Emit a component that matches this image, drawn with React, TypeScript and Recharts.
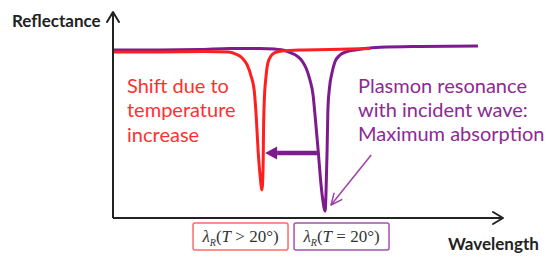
import { LineChart, Line, XAxis, YAxis, ReferenceLine, ReferenceDot } from 'recharts';

// wavelength in arbitrary units (0-100), reflectance 0-1
const redWavelength = [0, 12.1, 23.6, 29.5, 31.5, 33.1, 34.4, 35.4, 36.2, 36.7, 37.2, 37.7, 38.2, 38.5, 38.6, 38.8, 39.2, 39.7, 40.5, 41.5, 43.3, 47.9, 55.6, 65.9];
const redReflectance = [0.806, 0.806, 0.808, 0.806, 0.796, 0.777, 0.743, 0.689, 0.621, 0.5, 0.33, 0.209, 0.136, 0.257, 0.427, 0.573, 0.68, 0.752, 0.786, 0.803, 0.811, 0.816, 0.818, 0.823];

const purpleWavelength = [0, 12.1, 22.3, 30.0, 37.7, 41.5, 44.1, 45.6, 47.2, 48.5, 49.5, 50.5, 51.3, 51.8, 52.6, 53.3, 53.8, 54.4, 54.6, 54.9, 55.1, 55.5, 56.2, 56.9, 58.2, 60.0, 62.1, 64.6, 68.5, 78.7, 93.6];
const purpleReflectance = [0.816, 0.816, 0.818, 0.823, 0.823, 0.82, 0.813, 0.801, 0.786, 0.762, 0.728, 0.67, 0.597, 0.5, 0.33, 0.17, 0.087, 0.034, 0.112, 0.33, 0.524, 0.631, 0.709, 0.757, 0.791, 0.808, 0.816, 0.823, 0.829, 0.833, 0.835];

const labelPositions = [32.7, 58.6];
const labelConditions = ['>', '='];
const labelColors = ['#ff6a6a', '#a452ac'];

const redData = redWavelength.map((w, i) => ({ w, r: redReflectance[i] }));
const purpleData = purpleWavelength.map((w, i) => ({ w, r: purpleReflectance[i] }));

const RED = '#ff1f1f';
const PURPLE = '#7d1a8e';
const PURPLE_TEXT = '#8c2a92';

const sans = 'Lato, "Open Sans", sans-serif';
const serif = '"Liberation Serif", "DejaVu Serif", serif';

// line with an open chevron head at the end
const chevronArrow = (color: string, width: number, head: number, spread: number) => (p: any) => {
  const { x1, y1, x2, y2 } = p;
  const a = Math.atan2(y2 - y1, x2 - x1);
  const bx = x2 - head * Math.cos(a);
  const by = y2 - head * Math.sin(a);
  const nx = -Math.sin(a) * spread;
  const ny = Math.cos(a) * spread;
  return (
    <g>
      <line x1={x1} y1={y1} x2={x2} y2={y2} stroke={color} strokeWidth={width} />
      <polyline
        points={`${bx + nx},${by + ny} ${x2},${y2} ${bx - nx},${by - ny}`}
        fill="none"
        stroke={color}
        strokeWidth={width}
        strokeLinecap="round"
        strokeLinejoin="round"
      />
    </g>
  );
};

// thick arrow with filled triangular head
const filledArrow = (color: string, width: number, head: number, spread: number) => (p: any) => {
  const { x1, y1, x2, y2 } = p;
  const a = Math.atan2(y2 - y1, x2 - x1);
  const bx = x2 - head * Math.cos(a);
  const by = y2 - head * Math.sin(a);
  const nx = -Math.sin(a) * spread;
  const ny = Math.cos(a) * spread;
  return (
    <g>
      <line x1={x1} y1={y1} x2={bx} y2={by} stroke={color} strokeWidth={width} />
      <polygon points={`${bx + nx},${by + ny} ${x2},${y2} ${bx - nx},${by - ny}`} fill={color} />
    </g>
  );
};

// boxed λR(T ...) label hung below the axis
const boxLabel = (index: number) => (p: any) => {
  const { cx, cy } = p;
  const w = 95;
  const color = labelColors[index];
  return (
    <g>
      <rect x={cx - w / 2} y={cy + 5} width={w} height={27} rx={2} fill="#fff" stroke={color} strokeWidth={1.5} />
      <text x={cx} y={cy + 24} textAnchor="middle" fontFamily={serif} fontSize={17} fill="#333">
        <tspan fontStyle="italic">λ</tspan>
        <tspan fontStyle="italic" fontSize={10} dy={4}>R</tspan>
        <tspan dy={-4}>(</tspan>
        <tspan fontStyle="italic">T</tspan>
        <tspan>{` ${labelConditions[index]} 20°)`}</tspan>
      </text>
    </g>
  );
};

export default function App() {
  return (
    <div style={{ position: 'absolute', left: 0, top: 0, width: 550, height: 262, background: '#fff' }}>
      <LineChart width={550} height={262} margin={{ top: 12, right: 47, bottom: 44, left: 113 }}>
        <XAxis type="number" dataKey="w" domain={[0, 100]} hide />
        <YAxis type="number" domain={[0, 1]} hide />
        <Line data={purpleData} dataKey="r" type="monotone" stroke={PURPLE} strokeWidth={3} dot={false} isAnimationActive={false} />
        <Line data={redData} dataKey="r" type="monotone" stroke={RED} strokeWidth={3} dot={false} isAnimationActive={false} />
        <ReferenceLine
          segment={[{ x: 0, y: 0 }, { x: 0, y: 1 }]}
          ifOverflow="visible"
          shape={chevronArrow('#222', 2, 10, 6)}
        />
        <ReferenceLine
          segment={[{ x: 0, y: 0 }, { x: 100, y: 0 }]}
          ifOverflow="visible"
          shape={chevronArrow('#222', 2, 10, 6)}
        />
        <ReferenceLine
          segment={[{ x: 52.3, y: 0.316 }, { x: 39.0, y: 0.316 }]}
          ifOverflow="visible"
          shape={filledArrow(PURPLE, 4.5, 12, 6.5)}
        />
        <ReferenceLine
          segment={[{ x: 66.2, y: 0.306 }, { x: 55.9, y: 0.063 }]}
          ifOverflow="visible"
          shape={chevronArrow('#a040a8', 1.5, 11, 5)}
        />
        {labelPositions.map((x, i) => (
          <ReferenceDot key={i} x={x} y={0} ifOverflow="visible" shape={boxLabel(i)} />
        ))}
        <text x={12} y={27} fontFamily={sans} fontWeight={700} fontSize={17} fill="#222">Reflectance</text>
        <text x={448} y={250} fontFamily={sans} fontWeight={700} fontSize={17} fill="#222">Wavelength</text>
        <text fontFamily={sans} fontSize={20} fill="#ff3030">
          <tspan x={127} y={93}>Shift due to</tspan>
          <tspan x={127} y={117}>temperature</tspan>
          <tspan x={127} y={142}>increase</tspan>
        </text>
        <text fontFamily={sans} fontSize={20} fill={PURPLE_TEXT}>
          <tspan x={358} y={93}>Plasmon resonance</tspan>
          <tspan x={358} y={117}>with incident wave:</tspan>
          <tspan x={358} y={141}>Maximum absorption</tspan>
        </text>
      </LineChart>
    </div>
  );
}
